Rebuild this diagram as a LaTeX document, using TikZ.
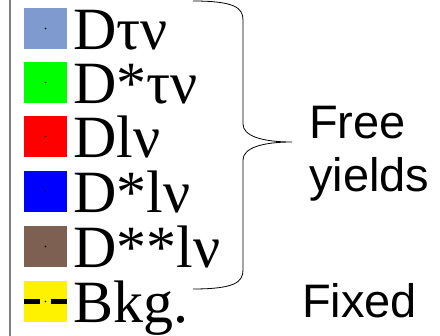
\documentclass[tikz,border=0pt]{standalone}
\usepackage{fontspec}
\setmainfont{Liberation Sans}
\newfontfamily\legendfont{Liberation Serif}
\usetikzlibrary{calc}
\definecolor{dtaunu}{RGB}{127,154,207}
\definecolor{dstlnu}{RGB}{125,96,82}
\tikzset{
  swatch/.style={
    rectangle,
    draw=none,
    inner sep=0pt,
    minimum width=43pt,
    minimum height=41pt
  },
  swatch dot/.style={
    circle,
    fill=black,
    inner sep=0pt,
    minimum size=1.6pt
  },
  legend label/.style={
    anchor=base west,
    inner sep=0pt,
    font=\legendfont\fontsize{60}{60}\selectfont
  },
  side label/.style={
    anchor=base west,
    inner sep=0pt,
    font=\fontsize{47}{47}\selectfont
  },
  brace line/.style={
    line width=0.8pt,
    color=black
  }
}

\begin{document}
\begin{tikzpicture}[x=1pt, y=-1pt]
    \useasboundingbox (0,0) rectangle (440,336);

    % 左侧竖线
    \draw[gray, line width=2pt] (10,0) -- (10,336);

    % 图例色块与标签
    \foreach \i/\col/\txt/\yb in {1/dtaunu/Dτν/50, 2/green/D*τν/104, 3/red/Dlν/158,
                                  4/blue/D*lν/213, 5/dstlnu/D**lν/268} {
      \node[swatch, fill=\col] (sw\i) at (45.5, \yb-21.5) {};
      \node[swatch dot] (dot\i) at (sw\i.center) {};
      \node[legend label] (lab\i) at (73, \yb) {\txt};
    }

    % 背景：黄色块加虚线
    \node[swatch, fill=yellow] (sw6) at (45.5, 301.5) {};
    \draw[line width=4.5pt] (sw6.west) -- ++(16,0);
    \draw[line width=4.5pt] (sw6.east) -- ++(-16,0);
    \node[swatch dot] (dot6) at (sw6.center) {};
    \node[legend label] (lab6) at (73, 323) {Bkg.};

    % 大括号
    \draw[brace line] (193,1) .. controls (235,1) and (243,8) .. (243,20)
      -- (243,124) .. controls (243,136) and (262,142) .. (292,142)
      .. controls (262,142) and (243,148) .. (243,160)
      -- (243,270) .. controls (243,282) and (235,289) .. (193,289);

    % 右侧文字
    \node[side label] (free) at (309,139) {Free};
    \node[side label] (yields) at (309,192) {yields};
    \node[side label] (fixed) at (302,318) {Fixed};

  \end{tikzpicture}
\end{document}
